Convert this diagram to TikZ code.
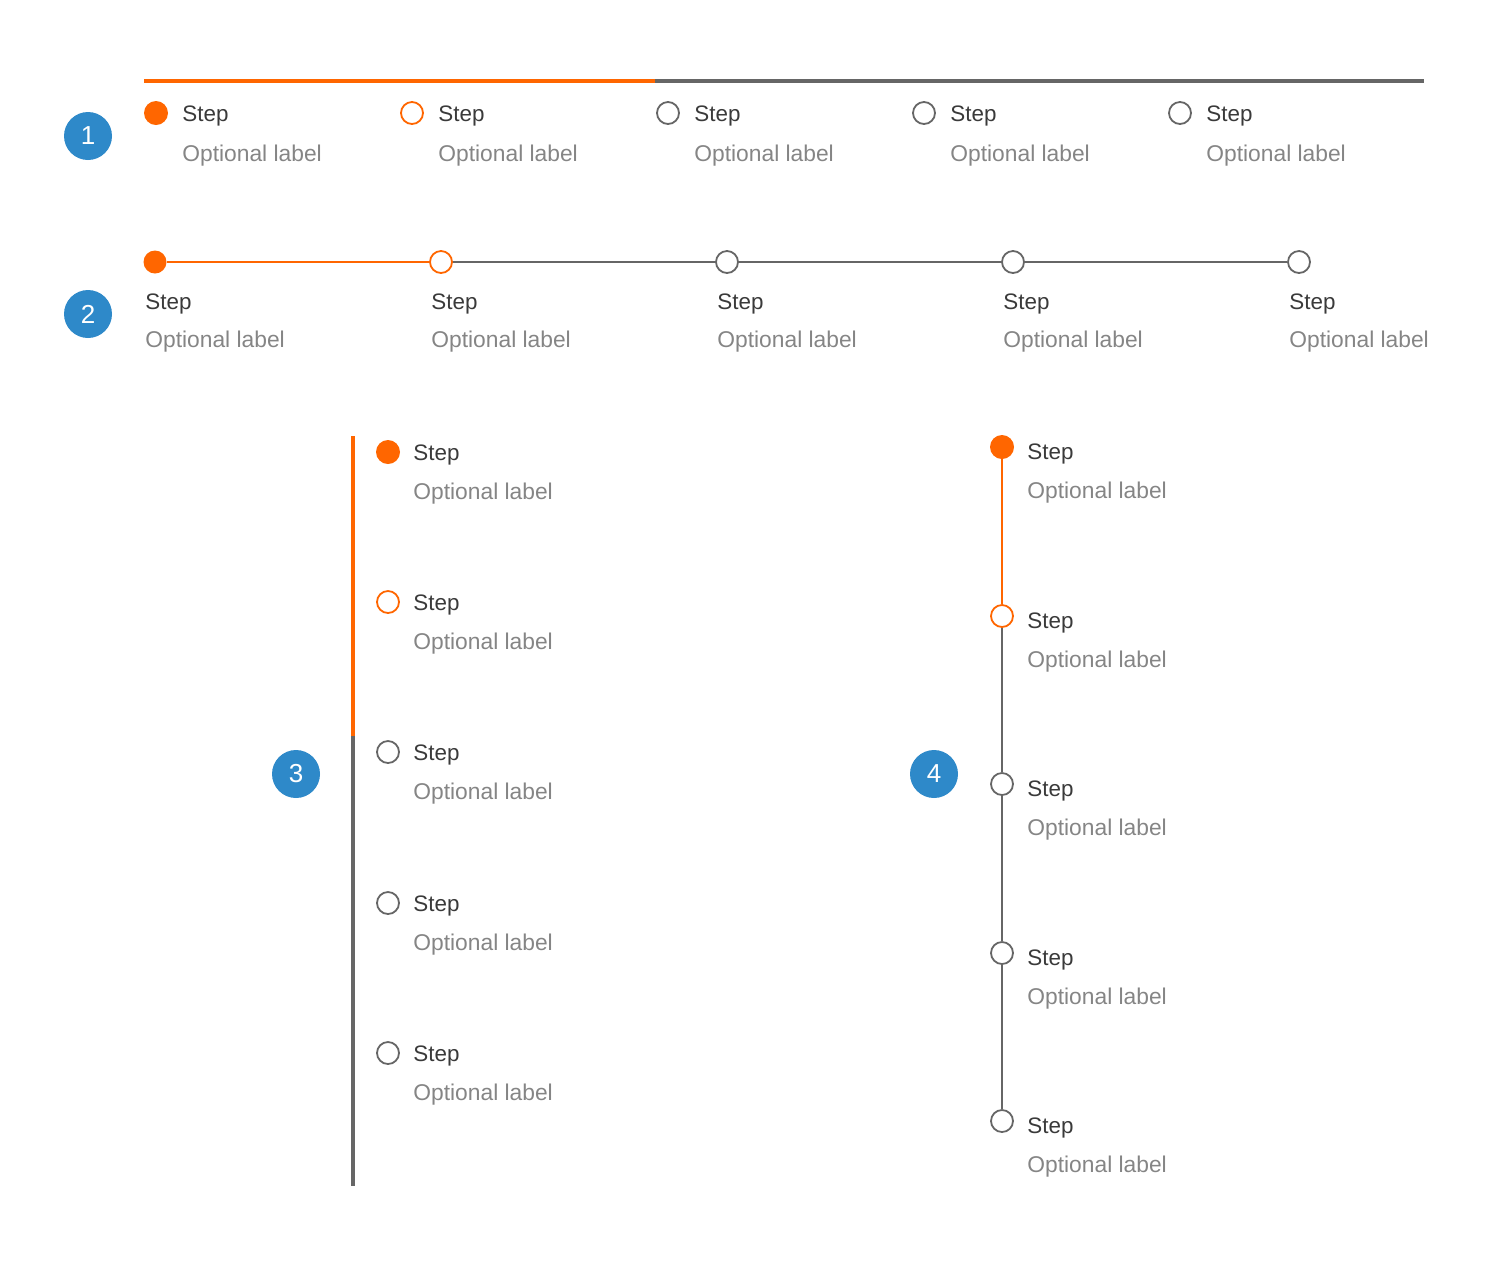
\documentclass[tikz,border=0pt]{standalone}
\usepackage{fontspec}
\setmainfont{Liberation Sans}
\definecolor{orng}{HTML}{FF6600}
\definecolor{lgray}{HTML}{666666}
\definecolor{stepc}{HTML}{3A3A3A}
\definecolor{optc}{HTML}{858585}
\definecolor{badgec}{HTML}{2E89C9}
\begin{document}
\begin{tikzpicture}[x=0.5pt,y=-0.5pt,
  dotfilled/.style={circle, fill=orng, minimum size=12pt, inner sep=0pt},
  dotopen/.style={circle, draw=lgray, line width=0.9pt, fill=white, minimum size=11pt, inner sep=0pt},
  dotorange/.style={circle, draw=orng, line width=0.9pt, fill=white, minimum size=11pt, inner sep=0pt},
  steptxt/.style={anchor=base west, inner sep=0pt, text=stepc, font=\fontsize{11.2}{13}\selectfont},
  opttxt/.style={anchor=base west, inner sep=0pt, text=optc, font=\fontsize{11.4}{13}\selectfont},
  badge/.style={circle, fill=badgec, minimum size=24pt, inner sep=0pt, text=white, font=\fontsize{13}{15}\selectfont},
  barthick/.style={line width=1.6pt},
  barthin/.style={line width=1.1pt}]
\useasboundingbox (0,0) rectangle (1504,1266);

% ---------- Section 1 ----------
\coordinate (t1a) at (144,81);
\coordinate (t1b) at (655,81);
\coordinate (t1c) at (1424,81);
\draw[orng, barthick] (t1a) -- (t1b);
\draw[lgray, barthick] (t1b) -- (t1c);
\node[dotfilled] (a1) at (156,113) {};
\node[dotorange] (a2) at (412,113) {};
\node[dotopen] (a3) at (668,113) {};
\node[dotopen] (a4) at (924,113) {};
\node[dotopen] (a5) at (1180,113) {};
\foreach \i/\x in {1/182,2/438,3/694,4/950,5/1206}{
  \node[steptxt] (as\i) at (\x,121) {Step};
  \node[opttxt] (ao\i) at (\x,161) {Optional label};
}
\node[badge] (b1) at (88,136) {1};

% ---------- Section 2 ----------
\node[dotfilled, minimum size=11.5pt] (c1) at (155,262) {};
\node[dotorange] (c2) at (441,262) {};
\node[dotopen] (c3) at (727,262) {};
\node[dotopen] (c4) at (1013,262) {};
\node[dotopen] (c5) at (1299,262) {};
\draw[orng, barthin] (c1) -- (c2);
\draw[lgray, barthin] (c2) -- (c3);
\draw[lgray, barthin] (c3) -- (c4);
\draw[lgray, barthin] (c4) -- (c5);
\foreach \i/\x in {1/145,2/431,3/717,4/1003,5/1289}{
  \node[steptxt] (cs\i) at (\x,309) {Step};
  \node[opttxt] (co\i) at (\x,347) {Optional label};
}
\node[badge] (b2) at (88,314) {2};

% ---------- Section 3 ----------
\coordinate (v3a) at (353,436);
\coordinate (v3b) at (353,736);
\coordinate (v3c) at (353,1186);
\draw[orng, barthick] (v3a) -- (v3b);
\draw[lgray, barthick] (v3b) -- (v3c);
\node[dotfilled] (d1) at (388,452) {};
\node[dotorange] (d2) at (388,602) {};
\node[dotopen] (d3) at (388,752) {};
\node[dotopen] (d4) at (388,903) {};
\node[dotopen] (d5) at (388,1053) {};
\foreach \i/\y in {1/452,2/602,3/752,4/903,5/1053}{
  \node[steptxt] (ds\i) at (413,\y+8) {Step};
  \node[opttxt] (do\i) at (413,\y+47) {Optional label};
}
\node[badge] (b3) at (296,774) {3};

% ---------- Section 4 ----------
\node[dotfilled] (e1) at (1002,447) {};
\node[dotorange] (e2) at (1002,616) {};
\node[dotopen] (e3) at (1002,784) {};
\node[dotopen] (e4) at (1002,953) {};
\node[dotopen] (e5) at (1002,1121) {};
\draw[orng, barthin] (e1) -- (e2);
\draw[lgray, barthin] (e2) -- (e3);
\draw[lgray, barthin] (e3) -- (e4);
\draw[lgray, barthin] (e4) -- (e5);
\foreach \i/\y in {1/447,2/616,3/784,4/953,5/1121}{
  \node[steptxt] (es\i) at (1027,\y+12) {Step};
  \node[opttxt] (eo\i) at (1027,\y+51) {Optional label};
}
\node[badge] (b4) at (934,774) {4};
\end{tikzpicture}
\end{document}
